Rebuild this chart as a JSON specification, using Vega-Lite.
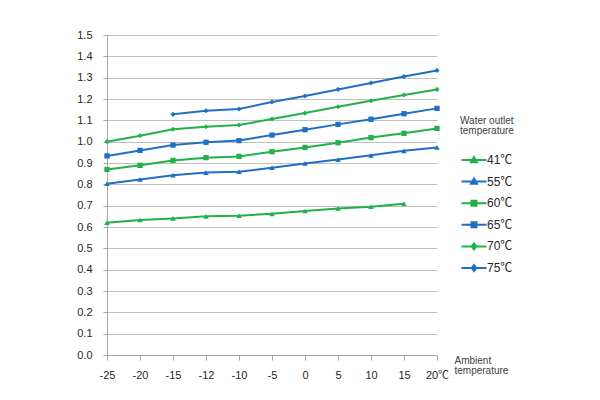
{
  "$schema": "https://vega.github.io/schema/vega-lite/v6.json",
  "width": 330,
  "height": 320,
  "autosize": {"type": "none"},
  "padding": {"left": 107, "top": 35, "right": 163, "bottom": 45},
  "background": "white",
  "config": {
    "font": "Liberation Sans, Noto Sans CJK SC, sans-serif",
    "view": {"stroke": null}
  },
  "data": {
    "values": [
      {"x": -25, "s": "41℃", "y": 0.620}, {"x": -20, "s": "41℃", "y": 0.633}, {"x": -15, "s": "41℃", "y": 0.640}, {"x": -12, "s": "41℃", "y": 0.650}, {"x": -10, "s": "41℃", "y": 0.653}, {"x": -5, "s": "41℃", "y": 0.662}, {"x": 0, "s": "41℃", "y": 0.675}, {"x": 5, "s": "41℃", "y": 0.687}, {"x": 10, "s": "41℃", "y": 0.695}, {"x": 15, "s": "41℃", "y": 0.709},
      {"x": -25, "s": "55℃", "y": 0.803}, {"x": -20, "s": "55℃", "y": 0.823}, {"x": -15, "s": "55℃", "y": 0.843}, {"x": -12, "s": "55℃", "y": 0.855}, {"x": -10, "s": "55℃", "y": 0.859}, {"x": -5, "s": "55℃", "y": 0.878}, {"x": 0, "s": "55℃", "y": 0.898}, {"x": 5, "s": "55℃", "y": 0.916}, {"x": 10, "s": "55℃", "y": 0.936}, {"x": 15, "s": "55℃", "y": 0.957}, {"x": 20, "s": "55℃", "y": 0.973},
      {"x": -25, "s": "60℃", "y": 0.870}, {"x": -20, "s": "60℃", "y": 0.889}, {"x": -15, "s": "60℃", "y": 0.912}, {"x": -12, "s": "60℃", "y": 0.925}, {"x": -10, "s": "60℃", "y": 0.931}, {"x": -5, "s": "60℃", "y": 0.953}, {"x": 0, "s": "60℃", "y": 0.973}, {"x": 5, "s": "60℃", "y": 0.995}, {"x": 10, "s": "60℃", "y": 1.019}, {"x": 15, "s": "60℃", "y": 1.039}, {"x": 20, "s": "60℃", "y": 1.062},
      {"x": -25, "s": "65℃", "y": 0.933}, {"x": -20, "s": "65℃", "y": 0.959}, {"x": -15, "s": "65℃", "y": 0.984}, {"x": -12, "s": "65℃", "y": 0.997}, {"x": -10, "s": "65℃", "y": 1.005}, {"x": -5, "s": "65℃", "y": 1.031}, {"x": 0, "s": "65℃", "y": 1.056}, {"x": 5, "s": "65℃", "y": 1.081}, {"x": 10, "s": "65℃", "y": 1.105}, {"x": 15, "s": "65℃", "y": 1.131}, {"x": 20, "s": "65℃", "y": 1.156},
      {"x": -25, "s": "70℃", "y": 1.000}, {"x": -20, "s": "70℃", "y": 1.028}, {"x": -15, "s": "70℃", "y": 1.058}, {"x": -12, "s": "70℃", "y": 1.070}, {"x": -10, "s": "70℃", "y": 1.078}, {"x": -5, "s": "70℃", "y": 1.106}, {"x": 0, "s": "70℃", "y": 1.134}, {"x": 5, "s": "70℃", "y": 1.164}, {"x": 10, "s": "70℃", "y": 1.192}, {"x": 15, "s": "70℃", "y": 1.219}, {"x": 20, "s": "70℃", "y": 1.245},
      {"x": -15, "s": "75℃", "y": 1.128}, {"x": -12, "s": "75℃", "y": 1.145}, {"x": -10, "s": "75℃", "y": 1.153}, {"x": -5, "s": "75℃", "y": 1.186}, {"x": 0, "s": "75℃", "y": 1.214}, {"x": 5, "s": "75℃", "y": 1.245}, {"x": 10, "s": "75℃", "y": 1.275}, {"x": 15, "s": "75℃", "y": 1.305}, {"x": 20, "s": "75℃", "y": 1.334}
    ]
  },
  "encoding": {
    "x": {
      "field": "x",
      "type": "ordinal",
      "scale": {"type": "point", "padding": 0},
      "axis": {
        "title": ["Ambient", "temperature"],
        "titleX": 347,
        "titleY": 0,
        "titleAlign": "left",
        "titleAnchor": null,
        "titleAngle": 0,
        "titleBaseline": "top",
        "titleFontSize": 10,
        "titleFontWeight": "normal",
        "titleColor": "#404040",
        "titleLineHeight": 10,
        "labelAngle": 0,
        "labelFontSize": 11,
        "labelColor": "#262626",
        "labelPadding": 9,
        "tickSize": 5,
        "tickColor": "#a6a6a6",
        "domainColor": "#a6a6a6",
        "grid": false,
        "labelExpr": "datum.value == 20 ? '20℃' : datum.label"
      }
    },
    "y": {
      "field": "y",
      "type": "quantitative",
      "scale": {"domain": [0, 1.5], "nice": false},
      "axis": {
        "title": null,
        "values": [0, 0.1, 0.2, 0.3, 0.4, 0.5, 0.6, 0.7, 0.8, 0.9, 1.0, 1.1, 1.2, 1.3, 1.4, 1.5],
        "format": ".1f",
        "labelFontSize": 11,
        "labelColor": "#262626",
        "labelPadding": 11,
        "tickSize": 4,
        "tickColor": "#a6a6a6",
        "domainColor": "#a6a6a6",
        "gridColor": "#bfbfbf"
      }
    },
    "color": {
      "field": "s",
      "type": "nominal",
      "scale": {
        "domain": ["41℃", "55℃", "60℃", "65℃", "70℃", "75℃"],
        "range": ["#22b04b", "#1f6fc4", "#22b04b", "#1f6fc4", "#22b04b", "#1f6fc4"]
      },
      "legend": {
        "title": ["Water outlet", "temperature"],
        "orient": "none",
        "legendX": 353,
        "legendY": 81,
        "titleFontSize": 10,
        "titleFontWeight": "normal",
        "titleColor": "#404040",
        "titleLineHeight": 10,
        "titlePadding": 18,
        "labelFontSize": 12,
        "labelColor": "#262626",
        "labelOffset": 7,
        "symbolSize": 100,
        "symbolStrokeWidth": 2,
        "rowPadding": 7.6,
        "encode": {
          "title": {"update": {"dx": {"value": -8}}},
          "symbols": {
            "update": {
              "shape": {"signal": "indexof(['41℃','55℃'], datum.value) >= 0 ? 'M-2.5,0H2.5M0,-0.6L0.6,0.45L-0.6,0.45Z' : indexof(['60℃','65℃'], datum.value) >= 0 ? 'M-2.5,0H2.5M-0.5,-0.5H0.5V0.5H-0.5Z' : 'M-2.5,0H2.5M0,-0.6L0.45,0L0,0.6L-0.45,0Z'"},
              "strokeWidth": {"value": 2}
            }
          }
        }
      }
    }
  },
  "layer": [
    {"mark": {"type": "line", "strokeWidth": 2}},
    {
      "transform": [{"filter": "datum.s == '41℃' || datum.s == '55℃'"}],
      "mark": {"type": "point", "filled": true, "opacity": 1, "size": 30, "shape": "triangle-up"}
    },
    {
      "transform": [{"filter": "datum.s == '60℃' || datum.s == '65℃'"}],
      "mark": {"type": "point", "filled": true, "opacity": 1, "size": 28, "shape": "square"}
    },
    {
      "transform": [{"filter": "datum.s == '70℃' || datum.s == '75℃'"}],
      "mark": {"type": "point", "filled": true, "opacity": 1, "size": 26, "shape": "diamond"}
    }
  ]
}
